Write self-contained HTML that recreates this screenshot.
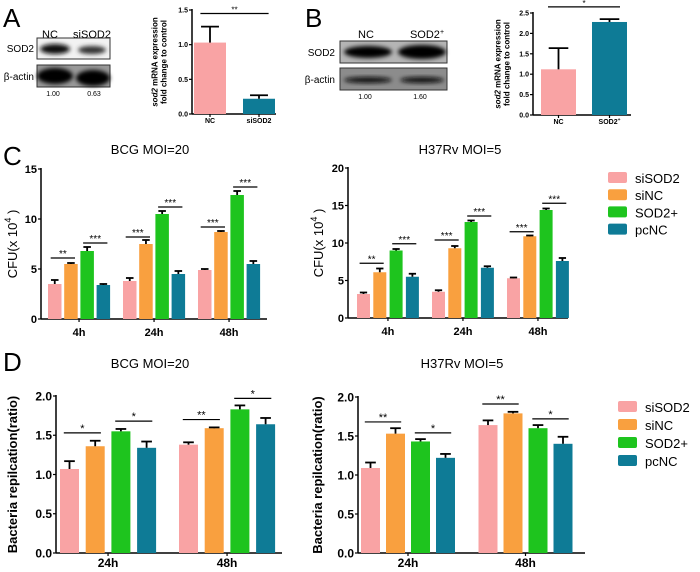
<!DOCTYPE html>
<html><head><meta charset="utf-8">
<style>
html,body{margin:0;padding:0;background:#fff;}
svg{display:block;font-family:"Liberation Sans",Arial,sans-serif;}
</style></head>
<body>
<svg id="fig" width="700" height="572" viewBox="0 0 700 572" xmlns="http://www.w3.org/2000/svg">
<defs>
<filter id="blur" x="-20%" y="-50%" width="140%" height="200%"><feGaussianBlur stdDeviation="2.2"/></filter>
</defs>
<text x="3" y="27" font-size="26">A</text>
<text x="305" y="27" font-size="26">B</text>
<text x="3" y="165" font-size="26">C</text>
<text x="3" y="371" font-size="26">D</text>

<g>
<text x="50" y="38" font-size="11" text-anchor="middle">NC</text>
<text x="92" y="38" font-size="11" text-anchor="middle">siSOD2</text>
<text x="34" y="52" font-size="10" text-anchor="end">SOD2</text>
<text x="34" y="80" font-size="10" text-anchor="end">β-actin</text>
<rect x="37" y="38" width="73" height="21" fill="#f2f2f2" stroke="#333" stroke-width="1"/>
<ellipse cx="55" cy="49" rx="15" ry="5" fill="#111" filter="url(#blur)"/>
<ellipse cx="92" cy="50" rx="14" ry="4" fill="#333" filter="url(#blur)"/>
<rect x="37" y="65" width="73" height="22" fill="#999" stroke="#333" stroke-width="1"/>
<ellipse cx="55" cy="76" rx="18" ry="8" fill="#000" filter="url(#blur)"/>
<ellipse cx="93" cy="78" rx="17" ry="8" fill="#000" filter="url(#blur)"/>
<text x="53" y="96" font-size="7" text-anchor="middle">1.00</text>
<text x="94" y="96" font-size="7" text-anchor="middle">0.63</text>
</g>
<g>
<text x="366" y="38" font-size="11" text-anchor="middle">NC</text>
<text x="427" y="38" font-size="11" text-anchor="middle">SOD2<tspan font-size="7" dy="-4">+</tspan></text>
<text x="335" y="56" font-size="10" text-anchor="end">SOD2</text>
<text x="335" y="83" font-size="10" text-anchor="end">β-actin</text>
<rect x="340" y="41" width="107" height="22" fill="#b5b5b5" stroke="#333" stroke-width="1"/>
<ellipse cx="368" cy="52" rx="24" ry="6" fill="#000" filter="url(#blur)"/>
<ellipse cx="422" cy="52" rx="24" ry="7" fill="#000" filter="url(#blur)"/>
<rect x="340" y="68" width="107" height="22" fill="#8c8c8c" stroke="#333" stroke-width="1"/>
<ellipse cx="368" cy="80" rx="24" ry="3" fill="#111" filter="url(#blur)"/>
<ellipse cx="422" cy="80" rx="22" ry="3" fill="#111" filter="url(#blur)"/>
<text x="365" y="99" font-size="7" text-anchor="middle">1.00</text>
<text x="420" y="99" font-size="7" text-anchor="middle">1.60</text>
</g>

<text x="150" y="154" font-size="13" text-anchor="middle">BCG MOI=20</text>
<text x="460" y="154" font-size="13" text-anchor="middle">H37Rv MOI=5</text>
<text x="150" y="368" font-size="13" text-anchor="middle">BCG MOI=20</text>
<text x="462" y="368" font-size="13" text-anchor="middle">H37Rv MOI=5</text>
<g id="charts"></g>
</svg>
<script>
const seriesNames = ["siSOD2","siNC","SOD2+","pcNC"];
const seriesColors = ["#f9a3a4","#f9a03f","#1ec41e","#0e7b96"];

const aCats = ["NC","siSOD2"];
const aVals = [1.03,0.22];
const aErr = [0.23,0.05];
const aTicks = ["0.0","0.5","1.0","1.5"];

const bCats = ["NC","SOD2+"];
const bVals = [1.12,2.28];
const bErr = [0.52,0.07];
const bTicks = ["0.0","0.5","1.0","1.5","2.0","2.5"];

const cCats = ["4h","24h","48h"];
const cBcgVals = [[3.5,3.8,4.9],[5.5,7.5,8.7],[6.8,10.5,12.4],[3.4,4.5,5.5]];
const cBcgErr = [[0.4,0.3,0.1],[0.1,0.4,0.1],[0.4,0.3,0.4],[0.1,0.3,0.3]];
const cBcgTicks = ["0","5","10","15"];
const cH37Vals = [[3.2,3.5,5.3],[6.1,9.3,10.9],[9.0,12.8,14.4],[5.5,6.7,7.6]];
const cH37Err = [[0.2,0.2,0.1],[0.5,0.3,0.1],[0.2,0.2,0.2],[0.4,0.2,0.4]];
const cH37Ticks = ["0","5","10","15","20"];

const dCats = ["24h","48h"];
const dBcgVals = [[1.07,1.38],[1.36,1.59],[1.55,1.83],[1.34,1.64]];
const dBcgErr = [[0.1,0.03],[0.07,0.01],[0.03,0.05],[0.08,0.08]];
const dH37Vals = [[1.09,1.64],[1.53,1.79],[1.43,1.60],[1.22,1.40]];
const dH37Err = [[0.07,0.06],[0.07,0.02],[0.03,0.04],[0.05,0.09]];
const dTicks = ["0.0","0.5","1.0","1.5","2.0"];

const NS="http://www.w3.org/2000/svg";
const root=document.getElementById('charts');
function mk(tag,attrs,parent,text){const e=document.createElementNS(NS,tag);for(const k in attrs)e.setAttribute(k,attrs[k]);if(text!==undefined)e.textContent=text;(parent||root).appendChild(e);return e;}

function chart(o){
  const g=mk('g',{});
  
  
  const ymax=parseFloat(o.ticks[o.ticks.length-1]);
  const y=v=>o.y0-(v/ymax)*(o.y0-o.y1);
  const ax=mk('line',{x1:o.ax,y1:o.y1-1,x2:o.ax,y2:o.y0,stroke:'#000','stroke-width':1.5},g);
  
  
  const xa=mk('line',{x1:o.ax,y1:o.y0,x2:o.axEnd,y2:o.y0,stroke:'#000','stroke-width':1.5},g);
  
  
  o.ticks.forEach(t=>{
    const yy=y(parseFloat(t));
    mk('line',{x1:o.ax-3,y1:yy,x2:o.ax,y2:yy,stroke:'#000','stroke-width':1.2},g);
    const tl=mk('text',{x:o.ax-4,y:yy+o.tfs*0.36,'font-size':o.tfs,'font-weight':'bold','text-anchor':'end'},g,t);
    
    
  });
  const ns=o.vals.length, nc=o.cats.length;
  for(let c=0;c<nc;c++){
    const gx=o.gx0+c*o.gstep;
    for(let s=0;s<ns;s++){
      const v=o.vals[s][c], e=o.err[s][c];
      const x=gx+s*o.bstep, col=o.catColors?o.catColors[c]:o.colors[s];
      const r=mk('rect',{x:x,y:y(v),width:o.bw,height:o.y0-y(v),fill:col},g);
      
      
      const cx=x+o.bw/2, ye=y(v+e);
      mk('line',{x1:cx,y1:y(v),x2:cx,y2:ye,stroke:'#000','stroke-width':1.8},g);
      mk('line',{x1:cx-o.bw*0.28,y1:ye,x2:cx+o.bw*0.28,y2:ye,stroke:'#000','stroke-width':1.8},g);
    }
    const lx=gx+(ns*o.bstep-(o.bstep-o.bw))/2 + (ns===1?0:0);
    const lxx = ns===1 ? gx+o.bw/2 : lx;
    mk('line',{x1:lxx,y1:o.y0,x2:lxx,y2:o.y0+3,stroke:'#000','stroke-width':1.2},g);
    const cl=mk('text',{x:lxx,y:o.y0+o.xly,'font-size':o.xfs,'font-weight':'bold','text-anchor':'middle'},g);
    
    
    const lab=o.cats[c];
    if(lab.endsWith('+')&&o.supPlus){mk('tspan',{},cl,lab.slice(0,-1));mk('tspan',{'font-size':o.xfs*0.7,dy:-3},cl,'+');}
    else cl.textContent=lab;
  }
  (o.sig||[]).forEach(sg=>{
    const [c,s1,s2,v,lab,c2]=sg;
    const gx=o.gx0+c*o.gstep, gx2=o.gx0+(c2===undefined?c:c2)*o.gstep;
    const x1=gx+s1*o.bstep+o.bw*0.2, x2=gx2+s2*o.bstep+o.bw*0.8, yy=y(v);
    mk('line',{x1:x1,y1:yy,x2:x2,y2:yy,stroke:'#000','stroke-width':1.2},g);
    mk('text',{x:(x1+x2)/2,y:yy-1,'font-size':o.sfs,'text-anchor':'middle'},g,lab);
  });
  const tt=mk('text',{x:o.titleX,y:(o.y0+o.y1)/2,'font-size':o.titleFs,'font-weight':o.titleBold?'bold':'normal','text-anchor':'middle',transform:'rotate(-90 '+o.titleX+' '+(o.y0+o.y1)/2+')'},g);
  
  
  o.title.forEach((ln,i)=>{mk('tspan',{x:o.titleX,dy:i===0?(-(o.title.length-1)*o.titleFs*0.55):o.titleFs*1.1},tt,ln);});
  if(o.italicFirst){const t0=tt.firstChild;t0.textContent='';mk('tspan',{'font-style':'italic'},t0,'sod2');mk('tspan',{},t0,' mRNA expression');}
  if(o.sup){tt.lastChild.textContent='';mk('tspan',{},tt.lastChild,'CFU(x 10');mk('tspan',{'font-size':9,dy:-6},tt.lastChild,'4');mk('tspan',{dy:6},tt.lastChild,' )');}
}

chart({name:'chart-a-mrna',cats:aCats,vals:[aVals],err:[aErr],series:['mrna'],catColors:['#f9a3a4','#0e7b96'],
  ticks:aTicks,ax:192,axEnd:276,y0:114,y1:10,gx0:194,gstep:49,bw:32,bstep:0,
  xfs:7,xly:9,tfs:7,sfs:8,sig:[[0,0,0,1.45,'**',1]],titleX:162,title:['sod2 mRNA expression','fold change to control'],italicFirst:true,titleFs:8,titleBold:true});
chart({name:'chart-b-mrna',cats:bCats,vals:[bVals],err:[bErr],series:['mrna'],catColors:['#f9a3a4','#0e7b96'],supPlus:true,
  ticks:bTicks,ax:533,axEnd:631,y0:115,y1:13,gx0:541,gstep:51,bw:35,bstep:0,
  xfs:7,xly:9,tfs:7,sfs:8,sig:[[0,0,0,2.65,'*',1]],titleX:505,title:['sod2 mRNA expression','fold change to control'],italicFirst:true,titleFs:8,titleBold:true});
chart({name:'chart-c-bcg',cats:cCats,vals:cBcgVals,err:cBcgErr,series:seriesNames,colors:seriesColors,ticks:cBcgTicks,
  ax:41,axEnd:267,y0:319,y1:169,gx0:48,gstep:75,bw:13.5,bstep:16.2,xfs:11,xly:17,tfs:11,sfs:10,
  sig:[[0,0,1,6.1,'**'],[0,2,3,7.6,'***'],[1,0,1,8.2,'***'],[1,2,3,11.2,'***'],[2,0,1,9.2,'***'],[2,2,3,13.2,'***']],
  titleX:17,title:['CFU(x 10'],sup:true,titleFs:13,titleBold:false});
chart({name:'chart-c-h37rv',cats:cCats,vals:cH37Vals,err:cH37Err,series:seriesNames,colors:seriesColors,ticks:cH37Ticks,
  ax:348,axEnd:568,y0:318,y1:168,gx0:357,gstep:75,bw:13,bstep:16.3,xfs:11,xly:17,tfs:11,sfs:10,
  sig:[[0,0,1,7.3,'**'],[0,2,3,9.9,'***'],[1,0,1,10.4,'***'],[1,2,3,13.6,'***'],[2,0,1,11.5,'***'],[2,2,3,15.3,'***']],
  titleX:323,title:['CFU(x 10'],sup:true,titleFs:13,titleBold:false});
chart({name:'chart-d-bcg',cats:dCats,vals:dBcgVals,err:dBcgErr,series:seriesNames,colors:seriesColors,ticks:dTicks,
  ax:56,axEnd:282,y0:553,y1:396,gx0:60,gstep:119,bw:19,bstep:25.7,xfs:12,xly:14,tfs:12,sfs:11,
  sig:[[0,0,1,1.53,'*'],[0,2,3,1.68,'*'],[1,0,1,1.70,'**'],[1,2,3,1.97,'*']],
  titleX:17,title:['Bacteria repilcation(ratio)'],titleFs:13,titleBold:true});
chart({name:'chart-d-h37rv',cats:dCats,vals:dH37Vals,err:dH37Err,series:seriesNames,colors:seriesColors,ticks:dTicks,
  ax:358,axEnd:585,y0:553,y1:397,gx0:361,gstep:117.5,bw:19,bstep:25,xfs:12,xly:14,tfs:12,sfs:11,
  sig:[[0,0,1,1.68,'**'],[0,2,3,1.54,'*'],[1,0,1,1.91,'**'],[1,2,3,1.72,'*']],
  titleX:322,title:['Bacteria repilcation(ratio)'],titleFs:13,titleBold:true});

function legend(name,x,y,dy){
  const g=mk('g',{});
  
  
  seriesNames.forEach((n,i)=>{
    const it=mk('g',{},g);
    
    
    mk('rect',{x:x,y:y+i*dy-6,width:19,height:11,rx:2,fill:seriesColors[i]},it);
    mk('text',{x:x+27,y:y+i*dy+5,'font-size':13},it,n);
  });
}
legend('legend-c',608,178,17.2);
legend('legend-d',618,407,18);
</script>
</body></html>
